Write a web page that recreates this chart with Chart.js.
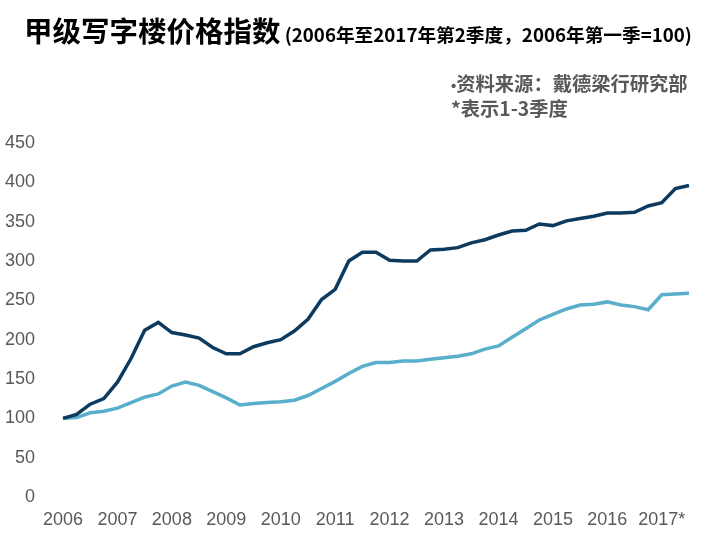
<!DOCTYPE html>
<html>
<head>
<meta charset="utf-8">
<script src="https://cdn.jsdelivr.net/npm/chart.js@4.4.0/dist/chart.umd.min.js"></script>
<style>
  html, body { margin: 0; padding: 0; background: #fff; }
  #wrap { position: relative; width: 705px; height: 537px; overflow: hidden; }
  #chart { position: absolute; left: 0; top: 0; }
  .title { position: absolute; left: 24px; top: 9px; white-space: nowrap;
           font-family: "Noto Sans CJK SC", sans-serif; font-weight: 700; color: #000; }
  .title .main { font-size: 28.5px; }
  .title .sub { font-size: 18.7px; }
  .note { position: absolute; left: 451px; top: 72px; line-height: 23px;
          font-family: "Noto Sans CJK SC", sans-serif; font-weight: 700;
          font-size: 19.3px; color: #595959; white-space: nowrap; }
  .note .dot { font-family: "Liberation Sans", Arial, sans-serif; font-size: 15px; }
</style>
</head>
<body>
<div id="wrap">
  <canvas id="chart" width="705" height="537"></canvas>
  <div class="title"><span class="main">甲级写字楼价格指数</span><span class="sub"> (2006年至2017年第2季度，2006年第一季=100)</span></div>
  <div class="note"><span class="dot">•</span>资料来源：戴德梁行研究部<br>*表示1-3季度</div>
</div>
<script>
// years shown on the x axis, one label per first quarter
var years = ['2006', '2007', '2008', '2009', '2010', '2011',
             '2012', '2013', '2014', '2015', '2016', '2017*'];

// quarterly index, 2006 Q1 .. 2017 Q3
var darkSeries = [100, 105, 118, 125, 146, 176, 212, 222, 209, 206, 202, 190,
                  182, 182, 191, 196, 200, 211, 226, 251, 264, 300, 311, 311,
                  301, 300, 300, 314, 315, 317, 323, 327, 333, 338, 339, 347,
                  345, 351, 354, 357, 361, 361, 362, 370, 374, 392, 396];
var lightSeries = [100, 101, 107, 109, 113, 120, 127, 131, 141, 146, 142, 134,
                   126, 117, 119, 120, 121, 123, 129, 138, 147, 157, 166, 171,
                   171, 173, 173, 175, 177, 179, 182, 188, 192, 203, 214, 225,
                   232, 239, 244, 245, 248, 244, 242, 238, 257, 258, 259];

var quarters = [];
for (var i = 0; i < darkSeries.length; i++) {
    quarters.push(years[Math.floor(i / 4)] + ' Q' + (i % 4 + 1));
}

var tickFont = { family: '"Liberation Sans", Arial, sans-serif', size: 18 };

new Chart(document.getElementById('chart'), {
    type: 'line',
    data: {
        labels: quarters,
        datasets: [
            { data: darkSeries, borderColor: '#0d3b60', borderWidth: 3.5,
              pointRadius: 0, tension: 0, fill: false },
            { data: lightSeries, borderColor: '#58aecb', borderWidth: 3.5,
              pointRadius: 0, tension: 0, fill: false }
        ]
    },
    options: {
        responsive: false,
        animation: false,
        layout: { padding: { left: 5, right: 16, top: 143, bottom: 6 } },
        plugins: { legend: { display: false }, tooltip: { enabled: false } },
        scales: {
            x: {
                offset: false,
                grid: { display: false, drawTicks: false, tickLength: 0 },
                border: { display: false },
                afterFit: function(scale) { scale.height = 34; },
                ticks: {
                    autoSkip: false, maxRotation: 0, minRotation: 0,
                    padding: 12, color: '#595959', font: tickFont,
                    callback: function(value, index) {
                        return index % 4 === 0 ? years[index / 4] : '';
                    }
                }
            },
            y: {
                min: 0, max: 450,
                grid: { display: false, drawTicks: false, tickLength: 0 },
                border: { display: false },
                afterFit: function(scale) { scale.width = 58; },
                ticks: { stepSize: 50, padding: 28, color: '#595959', font: tickFont }
            }
        }
    }
});
</script>
</body>
</html>
